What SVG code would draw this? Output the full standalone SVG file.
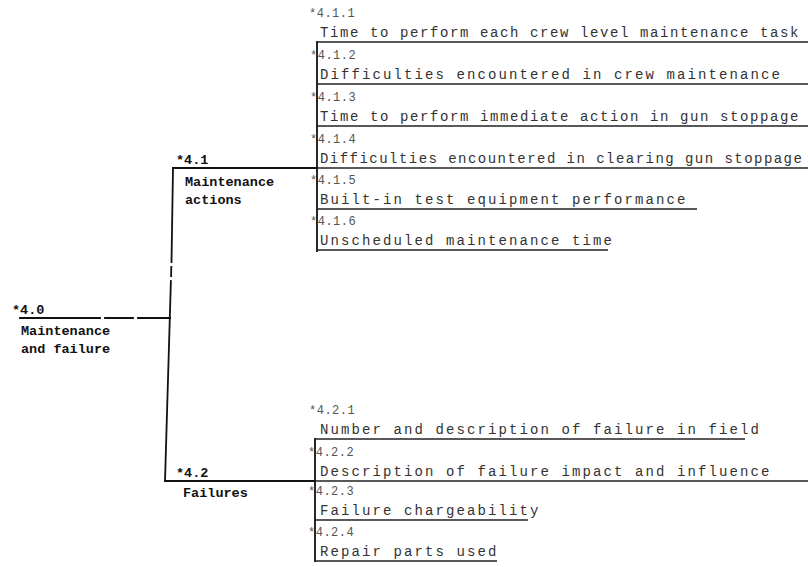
<svg xmlns="http://www.w3.org/2000/svg" width="808" height="567" viewBox="0 0 808 567">
<style>
.ln{stroke:#111;stroke-width:1.8;fill:none;stroke-linecap:square}
.ul{stroke:#222;stroke-width:1.3;fill:none}
.lt{font-family:"Liberation Mono","DejaVu Sans Mono",monospace;font-size:13.5px;font-weight:bold;letter-spacing:0px;fill:#111}
.rt{font-family:"Liberation Mono","DejaVu Sans Mono",monospace;font-size:14px;letter-spacing:2.1px;fill:#333}
.rl{font-family:"Liberation Mono","DejaVu Sans Mono",monospace;font-size:12px;letter-spacing:0.5px;fill:#555}
.tight{letter-spacing:1.6px}
</style>
<rect width="808" height="567" fill="#fff"/>
<g id="connectors">
<path class="ln" d="M20,318 L100,318 M105,318 L133,318 M138,318 L170,318"/>
<path class="ln" d="M173,168 L171.5,262 M171.3,267 L171.1,276 M170.9,281 L165,481"/>
<path class="ln" d="M173,168 L317,168"/>
<path class="ln" d="M165,481 L315,481"/>
<path class="ln" d="M317,42 L317,251"/>
<path class="ln" d="M315,439 L315,561"/>
</g>
<g id="n40">
<text class="lt" x="12" y="314">*4.0</text>
<text class="lt" x="21" y="335">Maintenance</text>
<text class="lt" x="21" y="353">and failure</text>
</g>
<g id="n41">
<text class="lt" x="176" y="164">*4.1</text>
<text class="lt" x="185" y="186">Maintenance</text>
<text class="lt" x="185" y="204">actions</text>
</g>
<g id="n42">
<text class="lt" x="176" y="477">*4.2</text>
<text class="lt" x="183" y="497">Failures</text>
</g>
<g id="n411">
<text class="rl" x="309" y="17">*4.1.1</text>
<text class="rt tight" x="320" y="37">Time to perform each crew level maintenance task</text>
<line class="ul" x1="317" y1="42" x2="808" y2="42"/>
</g>
<g id="n412">
<text class="rl" x="310" y="59">*4.1.2</text>
<text class="rt" x="320" y="79">Difficulties encountered in crew maintenance</text>
<line class="ul" x1="317" y1="84" x2="808" y2="84"/>
</g>
<g id="n413">
<text class="rl" x="310" y="101">*4.1.3</text>
<text class="rt tight" x="320" y="121">Time to perform immediate action in gun stoppage</text>
<line class="ul" x1="317" y1="126" x2="808" y2="126"/>
</g>
<g id="n414">
<text class="rl" x="310" y="143">*4.1.4</text>
<text class="rt" x="320" y="163" textLength="484" lengthAdjust="spacing">Difficulties encountered in clearing gun stoppage</text>
<line class="ul" x1="317" y1="168" x2="808" y2="168"/>
</g>
<g id="n415">
<text class="rl" x="310" y="184">*4.1.5</text>
<text class="rt" x="320" y="204">Built-in test equipment performance</text>
<line class="ul" x1="317" y1="209" x2="697" y2="209"/>
</g>
<g id="n416">
<text class="rl" x="310" y="225">*4.1.6</text>
<text class="rt" x="320" y="245">Unscheduled maintenance time</text>
<line class="ul" x1="317" y1="250" x2="608" y2="250"/>
</g>
<g id="n421">
<text class="rl" x="309" y="414">*4.2.1</text>
<text class="rt" x="320" y="434">Number and description of failure in field</text>
<line class="ul" x1="315" y1="439" x2="745" y2="439"/>
</g>
<g id="n422">
<text class="rl" x="308" y="456">*4.2.2</text>
<text class="rt" x="320" y="476">Description of failure impact and influence</text>
<line class="ul" x1="315" y1="481" x2="808" y2="481"/>
</g>
<g id="n423">
<text class="rl" x="308" y="495">*4.2.3</text>
<text class="rt" x="320" y="515">Failure chargeability</text>
<line class="ul" x1="315" y1="520" x2="528" y2="520"/>
</g>
<g id="n424">
<text class="rl" x="308" y="536">*4.2.4</text>
<text class="rt" x="320" y="556">Repair parts used</text>
<line class="ul" x1="315" y1="561" x2="497" y2="561"/>
</g>
</svg>
